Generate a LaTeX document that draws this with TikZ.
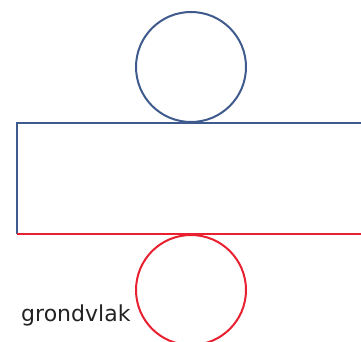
\documentclass[tikz,border=0pt]{standalone}
\usepackage{fontspec}
\setmainfont{DejaVu Sans}
\definecolor{netblue}{HTML}{3F5A8C}
\definecolor{netred}{HTML}{E8202F}
\definecolor{txt}{HTML}{222222}
\begin{document}
\begin{tikzpicture}[x=1pt,y=-1pt,
  blueline/.style={draw=netblue,line width=2pt},
  redline/.style={draw=netred,line width=2pt}]
\useasboundingbox (0,0) rectangle (361,342);
\begin{scope}
\clip (0,0) rectangle (361,342);
\coordinate (tl) at (17,123);
\coordinate (tr) at (370,123);
\coordinate (bl) at (17,234);
\coordinate (br) at (370,234);
\draw[blueline] (bl) -- (tl) -- (tr);
\draw[redline] (bl) -- (br);
\node[circle,blueline,minimum size=110pt,inner sep=0pt] (top) at (191,67) {};
\node[circle,redline,minimum size=110pt,inner sep=0pt] (bot) at (191,290) {};
\end{scope}
\node[anchor=base west,inner sep=0pt,text=txt,font=\fontsize{22}{26}\selectfont] (lab) at (21,321) {grondvlak};
\end{tikzpicture}
\end{document}
